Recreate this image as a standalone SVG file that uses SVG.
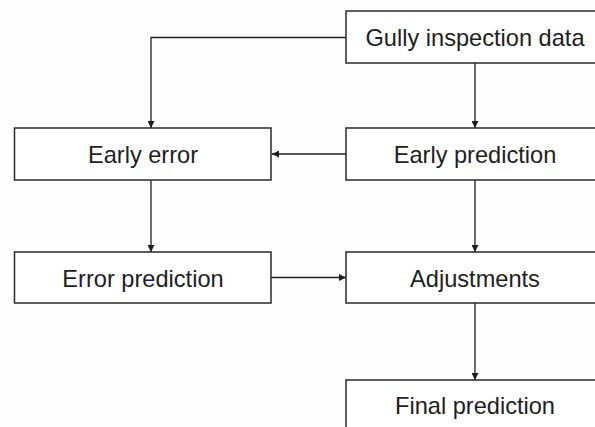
<svg xmlns="http://www.w3.org/2000/svg" width="595" height="427" viewBox="0 0 595 427">
<style>
.box{fill:#fff;stroke:#2a2a2a;stroke-width:1.5}
.lbl{font-family:"Liberation Sans",Arial,sans-serif;font-size:23.6px;fill:#1e1e1e;text-anchor:middle}
.con{fill:none;stroke:#1e1e1e;stroke-width:1.3}
</style>
<defs>
<marker id="ah" viewBox="0 0 10 10" refX="10" refY="5" markerWidth="7" markerHeight="7" markerUnits="userSpaceOnUse" orient="auto">
<path d="M0,0 L10,5 L0,10 z" fill="#1e1e1e"/>
</marker>
</defs>
<rect width="595" height="427" fill="#fdfdfd"/>
<g id="connectors">
<path class="con" d="M346,37.5 H151 V128" marker-end="url(#ah)"/>
<path class="con" d="M475,63 V128" marker-end="url(#ah)"/>
<path class="con" d="M346,154 H272" marker-end="url(#ah)"/>
<path class="con" d="M151,180 V252" marker-end="url(#ah)"/>
<path class="con" d="M475,180 V252" marker-end="url(#ah)"/>
<path class="con" d="M271,277.5 H346" marker-end="url(#ah)"/>
<path class="con" d="M475,303 V380" marker-end="url(#ah)"/>
</g>
<g id="gully">
<rect class="box" x="346" y="11" width="260" height="52"/>
<text class="lbl" x="475" y="45.5">Gully inspection data</text>
</g>
<g id="early-error">
<rect class="box" x="14.5" y="128" width="256.5" height="52"/>
<text class="lbl" x="143" y="163.3">Early error</text>
</g>
<g id="early-prediction">
<rect class="box" x="346" y="128" width="260" height="52"/>
<text class="lbl" x="475" y="163.3">Early prediction</text>
</g>
<g id="error-prediction">
<rect class="box" x="14.5" y="252" width="256.5" height="51"/>
<text class="lbl" x="143" y="286.5">Error prediction</text>
</g>
<g id="adjustments">
<rect class="box" x="346" y="252" width="260" height="51"/>
<text class="lbl" x="475" y="286.5">Adjustments</text>
</g>
<g id="final-prediction">
<rect class="box" x="346" y="380" width="260" height="60"/>
<text class="lbl" x="475" y="414">Final prediction</text>
</g>
</svg>
